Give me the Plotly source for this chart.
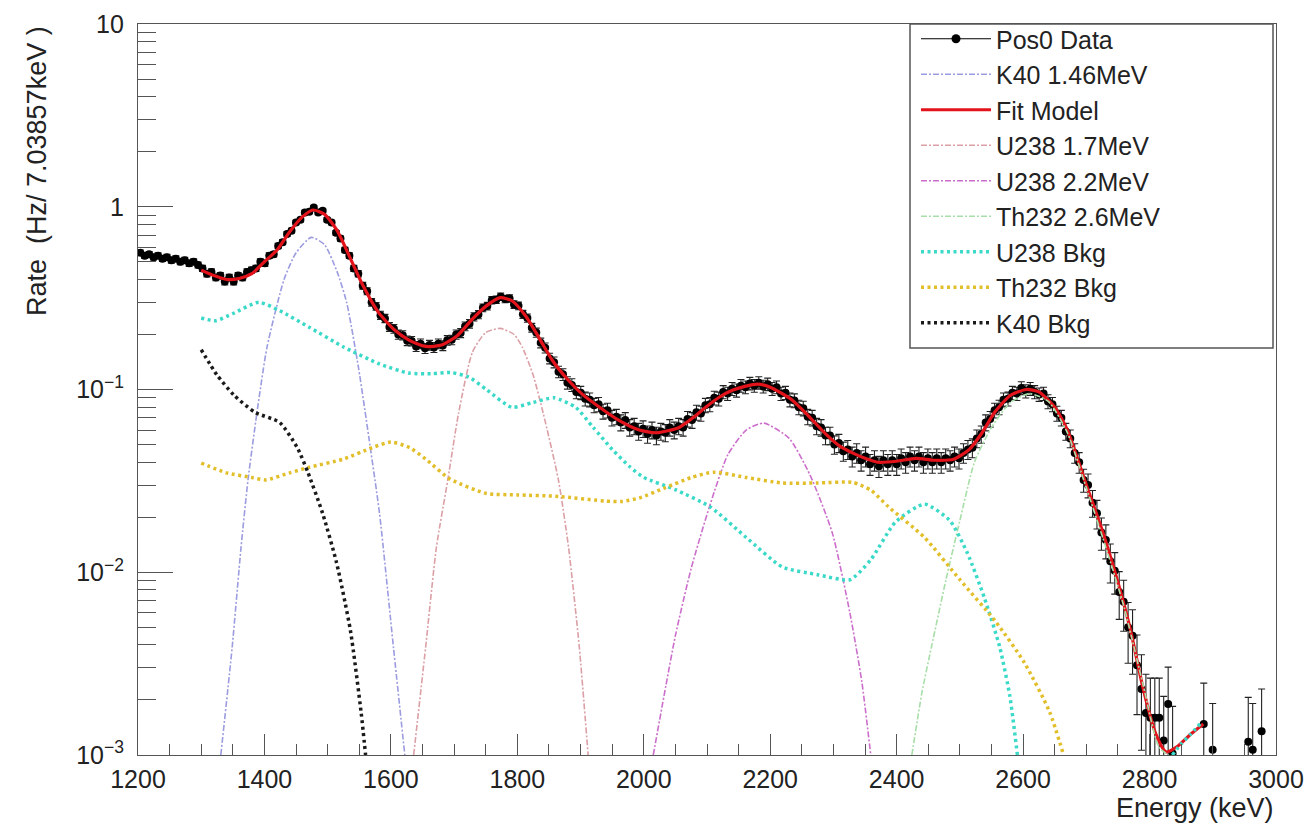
import plotly.graph_objects as go

# ---------------- data ----------------
BIN_WIDTH = 7.03857      # keV per bin (from the axis title)
E_START = 1200.0         # lower edge of the first bin
LIVE_TIME = 1500.0       # s, used for Poisson error bars sqrt(N)/T

data_rate = [
    0.56, 0.54, 0.55, 0.53, 0.54, 0.52, 0.53, 0.51, 0.52, 0.50, 0.51, 0.49, 0.50, 0.48,
    0.46, 0.43, 0.44, 0.41, 0.42, 0.39, 0.41, 0.39, 0.42, 0.41, 0.44, 0.45, 0.46, 0.50,
    0.49, 0.54, 0.55, 0.61, 0.64, 0.71, 0.74, 0.82, 0.85, 0.93, 0.94, 0.99, 0.93, 0.95,
    0.85, 0.82, 0.72, 0.67, 0.58, 0.54, 0.46, 0.43, 0.37, 0.345, 0.30, 0.285, 0.255, 0.245,
    0.22, 0.215, 0.20, 0.198, 0.185, 0.184, 0.172, 0.178, 0.168, 0.175, 0.17, 0.178, 0.174, 0.186,
    0.187, 0.20, 0.204, 0.222, 0.229, 0.25, 0.257, 0.28, 0.286, 0.308, 0.31, 0.322, 0.313, 0.315,
    0.292, 0.287, 0.258, 0.246, 0.218, 0.205, 0.18, 0.169, 0.148, 0.141, 0.125, 0.121, 0.109, 0.106,
    0.097, 0.096, 0.089, 0.088, 0.082, 0.083, 0.076, 0.077, 0.070, 0.071, 0.066, 0.068, 0.062, 0.063,
    0.059, 0.061, 0.057, 0.060, 0.056, 0.059, 0.058, 0.062, 0.060, 0.063, 0.062, 0.069, 0.068, 0.075,
    0.074, 0.082, 0.083, 0.090, 0.089, 0.097, 0.095, 0.101, 0.099, 0.105, 0.103, 0.108, 0.105, 0.109,
    0.104, 0.107, 0.101, 0.103, 0.095, 0.096, 0.088, 0.087, 0.080, 0.079, 0.071, 0.070, 0.063, 0.062,
    0.056, 0.056, 0.050, 0.051, 0.046, 0.047, 0.043, 0.045, 0.041, 0.043, 0.039, 0.041, 0.038, 0.041,
    0.039, 0.041, 0.039, 0.042, 0.040, 0.043, 0.041, 0.043, 0.040, 0.042, 0.040, 0.042, 0.040, 0.042,
    0.041, 0.043, 0.042, 0.045, 0.047, 0.048, 0.054, 0.057, 0.066, 0.069, 0.077, 0.080, 0.088, 0.089,
    0.096, 0.095, 0.102, 0.098, 0.101, 0.097, 0.094, 0.095, 0.086, 0.083, 0.074, 0.070, 0.059, 0.054,
    0.045, 0.040, 0.032, 0.030, 0.024, 0.021, 0.0165, 0.015, 0.0115, 0.0102, 0.0078, 0.0069, 0.0050, 0.0045,
    0.0031, 0.0023, 0.0017, 0.0016, 0.0016, 0.0016, 0.0012, 0.0019, 0.00102, None, None, None, None, None,
    None, 0.00148, None, 0.00107, None, None, None, None, None, None, None, 0.00118, 0.00107, None, 0.00135,
]

fit_E = [1300, 1320, 1340, 1360, 1380, 1400, 1420, 1440, 1460, 1477,
         1495, 1515, 1535, 1555, 1580, 1605, 1630, 1655, 1680, 1705,
         1730, 1750, 1773, 1792, 1814, 1835, 1855, 1880, 1903, 1930,
         1960, 1993, 2020, 2056, 2080, 2098, 2120, 2140, 2160, 2180,
         2200, 2234, 2260, 2288, 2310, 2330, 2350, 2370, 2400, 2430,
         2460, 2490, 2515, 2535, 2555, 2580, 2605, 2625, 2650, 2670,
         2700, 2725, 2750, 2770, 2790, 2810, 2826, 2845, 2865, 2885]
fit_V = [0.45, 0.42, 0.40, 0.405, 0.43, 0.50, 0.58, 0.73, 0.88, 0.96,
         0.91, 0.74, 0.53, 0.375, 0.265, 0.213, 0.185, 0.172, 0.175, 0.197,
         0.245, 0.285, 0.318, 0.305, 0.25, 0.19, 0.145, 0.113, 0.094, 0.08,
         0.068, 0.060, 0.058, 0.062, 0.071, 0.080, 0.091, 0.099, 0.104, 0.107,
         0.103, 0.088, 0.072, 0.057, 0.049, 0.045, 0.042, 0.040, 0.0405, 0.042,
         0.041, 0.0415, 0.047, 0.058, 0.075, 0.093, 0.100, 0.097, 0.080, 0.060,
         0.030, 0.017, 0.0088, 0.0048, 0.0023, 0.0013, 0.00104, 0.00112, 0.0013, 0.00148]

k40_peak_E = [1331, 1349, 1363, 1374, 1388, 1404, 1431, 1450, 1474, 1495, 1515, 1530, 1549, 1565, 1582, 1604, 1622]
k40_peak_V = [0.001, 0.0039, 0.0137, 0.032, 0.074, 0.17, 0.40, 0.56, 0.68, 0.62, 0.44, 0.30, 0.13, 0.055, 0.021, 0.0039, 0.001]

u17_E = [1636, 1655, 1672, 1690, 1707, 1729, 1750, 1773, 1795, 1808, 1825, 1841, 1865, 1881, 1898, 1912]
u17_V = [0.001, 0.0039, 0.0137, 0.032, 0.074, 0.16, 0.205, 0.216, 0.20, 0.17, 0.12, 0.074, 0.032, 0.0137, 0.0039, 0.001]

u22_E = [2015, 2035, 2050, 2075, 2105, 2133, 2162, 2190, 2230, 2263, 2298, 2326, 2345, 2359]
u22_V = [0.001, 0.0024, 0.0045, 0.0105, 0.0235, 0.044, 0.060, 0.0655, 0.054, 0.034, 0.0165, 0.006, 0.0025, 0.001]

th26_E = [2424, 2440, 2455, 2478, 2500, 2523, 2550, 2580, 2610, 2640, 2670, 2700, 2730, 2760, 2790, 2815, 2830]
th26_V = [0.001, 0.0022, 0.0039, 0.0091, 0.0192, 0.040, 0.062, 0.085, 0.095, 0.086, 0.058, 0.029, 0.0140, 0.0064, 0.0024, 0.0011, 0.001]

ubkg_E = [1300, 1323, 1350, 1391, 1424, 1470, 1525, 1582, 1628, 1665, 1694, 1723, 1751, 1791,
          1825, 1858, 1892, 1920, 1950, 1977, 2000, 2050, 2105, 2162, 2219, 2275, 2326, 2359,
          2398, 2444, 2484, 2512, 2539, 2563, 2579, 2591, None, 2836, 2850, 2865, 2880]
ubkg_V = [0.246, 0.238, 0.26, 0.30, 0.27, 0.22, 0.171, 0.138, 0.123, 0.122, 0.124, 0.117, 0.10, 0.080,
          0.085, 0.090, 0.080, 0.062, 0.047, 0.038, 0.033, 0.0283, 0.0228, 0.0155, 0.0107, 0.0097, 0.0091, 0.0117,
          0.0188, 0.0236, 0.0192, 0.0127, 0.0072, 0.0039, 0.0021, 0.001, None, 0.001, 0.00115, 0.0013, 0.00148]

thbkg_E = [1300, 1340, 1380, 1402, 1440, 1470, 1525, 1570, 1600, 1630, 1655, 1694, 1751, 1800,
           1865, 1940, 1966, 1993, 2034, 2075, 2111, 2162, 2219, 2275, 2331, 2360, 2387, 2444,
           2500, 2556, 2602, 2642, 2664]
thbkg_V = [0.0396, 0.035, 0.033, 0.032, 0.035, 0.0375, 0.0416, 0.048, 0.0516, 0.048, 0.0416, 0.0323, 0.027, 0.0265,
           0.026, 0.0245, 0.0244, 0.0255, 0.029, 0.033, 0.0353, 0.033, 0.0308, 0.0308, 0.031, 0.028, 0.0228, 0.0155,
           0.0091, 0.0054, 0.0032, 0.00172, 0.001]

k40bkg_E = [1300, 1325, 1352, 1385, 1424, 1452, 1469, 1492, 1514, 1536, 1553, 1560]
k40bkg_V = [0.165, 0.12, 0.093, 0.075, 0.066, 0.048, 0.035, 0.021, 0.0113, 0.0048, 0.0017, 0.001]

x_ticks = [1200, 1400, 1600, 1800, 2000, 2200, 2400, 2600, 2800, 3000]
y_ticks = [0.001, 0.01, 0.1, 1, 10]
y_ticktext = ["10<sup>\u22123</sup>", "10<sup>\u22122</sup>", "10<sup>\u22121</sup>", "1", "10"]
y_minor = [m * 10.0 ** d for d in range(-3, 1) for m in range(2, 10)]

# ---------------- derived bin centres / errors ----------------
data_energy = [E_START + BIN_WIDTH * (i + 0.5) for i in range(len(data_rate))]
data_err = [float("nan") if r is None else (r / LIVE_TIME) ** 0.5 for r in data_rate]

FONT = "Liberation Sans, Arial, Helvetica, sans-serif"
fig = go.Figure()

# legend entry for the data (line + marker like ROOT)
fig.add_trace(go.Scatter(x=[None], y=[None], mode="lines+markers", name="Pos0 Data",
                         line=dict(color="black", width=1),
                         marker=dict(color="black", size=9), legendgroup="g0"))
fig.add_trace(go.Scatter(x=data_energy, y=data_rate, mode="markers", showlegend=False,
                         marker=dict(color="black", size=8),
                         error_y=dict(type="data", array=data_err, color="#222", thickness=1.1, width=3.5)))


def comp(x, y, name, color, width, dash, grp):
    fig.add_trace(go.Scatter(x=x, y=y, mode="lines", name=name, legendgroup=grp,
                             line=dict(color=color, width=width, dash=dash, shape="spline", smoothing=0.6),
                             connectgaps=False))


comp(k40_peak_E, k40_peak_V, "K40 1.46MeV", "#9c9ce0", 1.6, "6px,2px,2px,2px", "g1")
comp(fit_E, fit_V, "Fit Model", "#e3131b", 3.2, "solid", "g2")
comp(u17_E, u17_V, "U238 1.7MeV", "#dba0a6", 1.6, "6px,2px,2px,2px", "g3")
comp(u22_E, u22_V, "U238 2.2MeV", "#cc6fcc", 1.6, "6px,2px,2px,2px", "g4")
comp(th26_E, th26_V, "Th232 2.6MeV", "#a8dea8", 1.6, "6px,2px,2px,2px", "g5")
comp(ubkg_E, ubkg_V, "U238 Bkg", "#3ad9c8", 3.5, "3px,3.5px", "g6")
comp(thbkg_E, thbkg_V, "Th232 Bkg", "#e2bf2a", 3.5, "3px,3.5px", "g7")
comp(k40bkg_E, k40bkg_V, "K40 Bkg", "#1a1a1a", 3.5, "3px,3.5px", "g8")

axis_col = "#555555"
fig.update_xaxes(range=[1200, 3000], tickmode="array", tickvals=x_ticks, automargin=False,
                 ticks="inside", ticklen=21, tickwidth=1, tickcolor=axis_col,
                 showline=True, linecolor=axis_col, linewidth=1.2, mirror=True,
                 showgrid=False, zeroline=False, ticklabelstandoff=2,
                 tickfont=dict(family=FONT, size=25, color="#222"),
                 minor=dict(dtick=50, tick0=1200, ticks="inside", ticklen=11, tickcolor=axis_col, showgrid=False))
fig.update_yaxes(type="log", range=[-3, 1], tickmode="array", tickvals=y_ticks, ticktext=y_ticktext,
                 automargin=False,
                 ticks="inside", ticklen=35, tickwidth=1, tickcolor=axis_col,
                 showline=True, linecolor=axis_col, linewidth=1.2, mirror=True,
                 showgrid=False, zeroline=False, ticklabelstandoff=8,
                 tickfont=dict(family=FONT, size=25, color="#222"),
                 minor=dict(tickmode="array", tickvals=y_minor, ticks="inside", ticklen=18,
                            tickcolor=axis_col, showgrid=False))

# The page body adds an 8px margin, so the figure is drawn 8px right/down in the window.
OFF = 8
W, H = 1312 - OFF, 823 - OFF
L, T = 138 - OFF, 24 - OFF
R = W - (1276 - OFF)
B = H - (755 - OFF)
pw, ph = W - L - R, H - T - B

def px(xp):
    """window pixel x -> paper fraction"""
    return (xp - OFF - L) / pw

def py(yp):
    """window pixel y -> paper fraction"""
    return (H - B - (yp - OFF)) / ph

fig.add_shape(type="rect", xref="paper", yref="paper", x0=px(910), x1=px(1273), y0=py(348), y1=1.0,
              line=dict(color="#555", width=1.5), fillcolor="white", layer="above")

fig.add_annotation(text="Energy (keV)", xref="paper", yref="paper", x=1.0, y=py(808),
                   xanchor="right", yanchor="middle", showarrow=False,
                   font=dict(family=FONT, size=27, color="#222"))
fig.add_annotation(text="Rate  (Hz/ 7.03857keV )", xref="paper", yref="paper", x=px(37), y=1.0,
                   xanchor="center", yanchor="top", textangle=-90, showarrow=False,
                   font=dict(family=FONT, size=27, color="#222"))

fig.update_layout(
    width=W, height=H, margin=dict(l=L, r=R, t=T, b=B, autoexpand=False),
    paper_bgcolor="white", plot_bgcolor="white",
    font=dict(family=FONT, color="#222"),
    showlegend=True,
    legend=dict(x=px(916), y=py(16), xanchor="left", yanchor="top",
                bgcolor="rgba(0,0,0,0)", borderwidth=0, itemwidth=70,
                traceorder="grouped", tracegroupgap=0,
                font=dict(family=FONT, size=25, color="#222")),
)

fig.write_html("out.html")
